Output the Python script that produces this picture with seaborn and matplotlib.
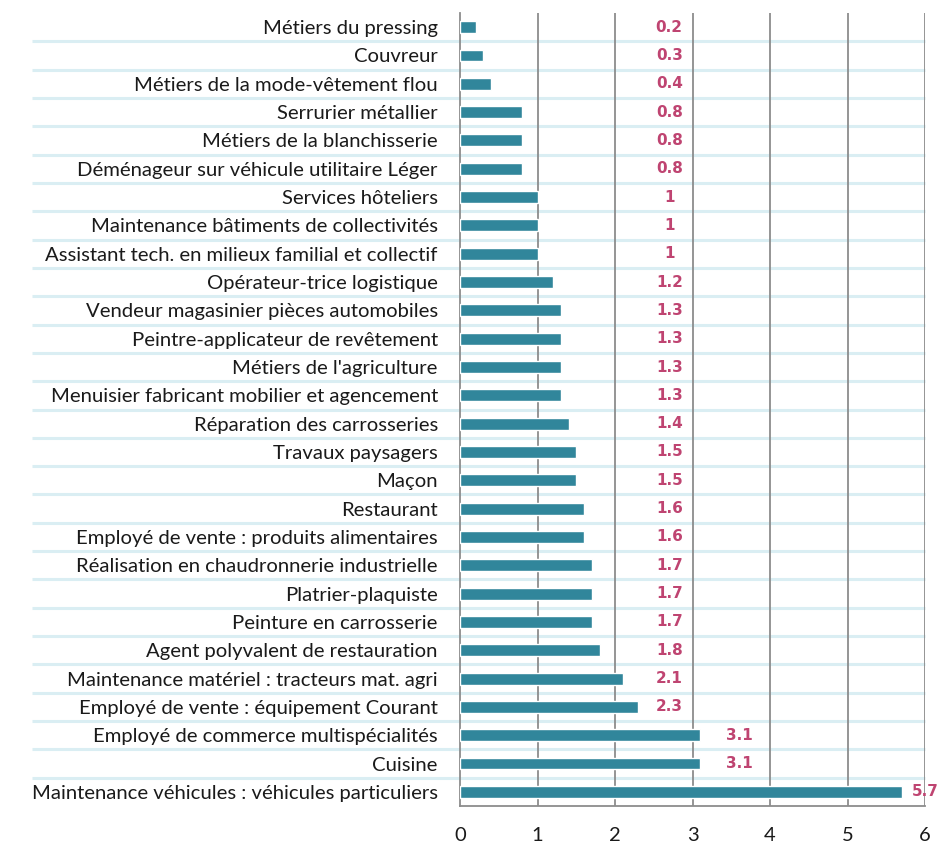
import matplotlib
matplotlib.use('Agg')
import matplotlib.pyplot as plt
import seaborn as sns
import pandas as pd

metiers = [
    "Métiers du pressing",
    "Couvreur",
    "Métiers de la mode-vêtement flou",
    "Serrurier métallier",
    "Métiers de la blanchisserie",
    "Déménageur sur véhicule utilitaire Léger",
    "Services hôteliers",
    "Maintenance bâtiments de collectivités",
    "Assistant tech. en milieux familial et collectif",
    "Opérateur-trice logistique",
    "Vendeur magasinier pièces automobiles",
    "Peintre-applicateur de revêtement",
    "Métiers de l'agriculture",
    "Menuisier fabricant mobilier et agencement",
    "Réparation des carrosseries",
    "Travaux paysagers",
    "Maçon",
    "Restaurant",
    "Employé de vente : produits alimentaires",
    "Réalisation en chaudronnerie industrielle",
    "Platrier-plaquiste",
    "Peinture en carrosserie",
    "Agent polyvalent de restauration",
    "Maintenance matériel : tracteurs mat. agri",
    "Employé de vente : équipement Courant",
    "Employé de commerce multispécialités",
    "Cuisine",
    "Maintenance véhicules : véhicules particuliers",
]
valeurs = [0.2, 0.3, 0.4, 0.8, 0.8, 0.8, 1, 1, 1, 1.2, 1.3, 1.3, 1.3, 1.3,
           1.4, 1.5, 1.5, 1.6, 1.6, 1.7, 1.7, 1.7, 1.8, 2.1, 2.3, 3.1, 3.1, 5.7]
x_ticks = [0, 1, 2, 3, 4, 5, 6]

df = pd.DataFrame({'metier': metiers, 'valeur': valeurs})

sns.set_style('white')
plt.rcParams['font.family'] = ['Lato', 'DejaVu Sans']

fig = plt.figure(figsize=(9.38, 8.48), dpi=100)
ax = fig.add_axes([460 / 938, 42 / 848, 465 / 938, 793 / 848])

sns.barplot(data=df, x='valeur', y='metier', orient='h', color='#31869b',
            saturation=1, width=0.42, ax=ax, zorder=3)

n = len(metiers)
ax.set_ylim(n - 0.5, -0.5)
ax.set_xlim(0, 6)
ax.set_xticks(x_ticks)
ax.set_xlabel('')
ax.set_ylabel('')

# separateurs bleu clair entre les lignes, prolongés sous les libellés
bornes = [i + 0.5 for i in range(n - 1)]
ax.hlines(bornes, -0.92, 1.0, transform=ax.get_yaxis_transform(),
          colors='#daeef3', linewidth=2.2, clip_on=False, zorder=1)

for x in x_ticks[1:]:
    ax.axvline(x, color='#8c8c8c', linewidth=1.3, zorder=2)

# petites graduations aux limites des lignes
ax.set_yticks([i - 0.5 for i in range(n + 1)], minor=True)
ax.tick_params(axis='y', which='major', length=0, labelsize=14.6, pad=16,
               labelcolor='#1a1a1a')
ax.tick_params(axis='y', which='minor', length=5, width=1.2, color='#8c8c8c')
ax.tick_params(axis='x', length=5, width=1.2, color='#8c8c8c', labelsize=14.5,
               pad=10, labelcolor='#1a1a1a')

for side in ['top', 'right']:
    ax.spines[side].set_visible(False)
for side in ['left', 'bottom']:
    ax.spines[side].set_color('#8c8c8c')
    ax.spines[side].set_linewidth(1.3)

for i, v in enumerate(valeurs):
    xpos = 2.7 if v + 0.35 < 2.7 else min(v + 0.5, 6.0)
    ax.text(xpos, i, f'{v:g}', ha='center', va='center', color='#bf4471',
            fontsize=11, fontweight='bold', family='DejaVu Sans',
            clip_on=False, zorder=4)

fig.savefig('out.png', dpi=100)
